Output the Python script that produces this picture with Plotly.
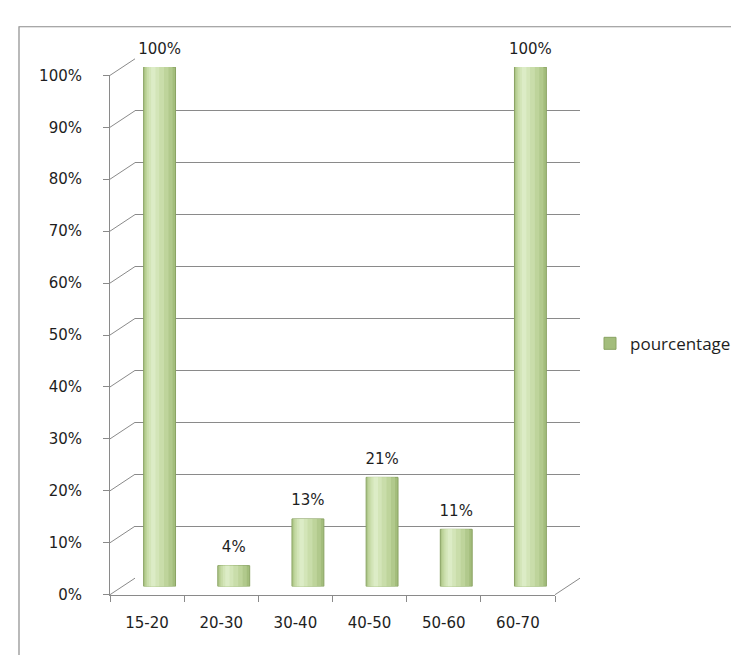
import plotly.graph_objects as go

categories = ["15-20", "20-30", "30-40", "40-50", "50-60", "60-70"]
values = [1.00, 0.04, 0.13, 0.21, 0.11, 1.00]
value_labels = ["100%", "4%", "13%", "21%", "11%", "100%"]
tick_values = [0, 0.1, 0.2, 0.3, 0.4, 0.5, 0.6, 0.7, 0.8, 0.9, 1.0]
tick_labels = ["0%", "10%", "20%", "30%", "40%", "50%", "60%", "70%", "80%", "90%", "100%"]
series_name = "pourcentage"

W, H = 739, 655
def px(x): return x / W
def py(y): return 1 - y / H

# pseudo-3D planes (pixel positions): front, middle (bars), back (walls)
FRONT = dict(x0=102, x1=547, yb=594, yt=60)
DX, DY = 25, -17
MID = dict(x0=FRONT["x0"] + DX / 2, x1=FRONT["x1"] + DX / 2, yb=FRONT["yb"] + DY / 2, yt=FRONT["yt"] + DY / 2)
BACK = dict(x0=FRONT["x0"] + DX, x1=FRONT["x1"] + DX, yb=FRONT["yb"] + DY, yt=FRONT["yt"] + DY)

GRID = "#8a8a8a"
FONT = "DejaVu Sans"
TXT = "#1e1e1e"

fig = go.Figure()

# back wall grid (subplot 1)
fig.add_trace(go.Scatter(x=categories, y=[None] * len(categories), xaxis="x", yaxis="y",
                         showlegend=False, hoverinfo="skip"))

# cylinders (subplot 2) - layered bars to imitate shading
layers = [
    (0.43, -0.215, "#a3bd7c", "#8aa363", True),
    (0.38, -0.205, "#b1c98c", "rgba(0,0,0,0)", False),
    (0.31, -0.19, "#bed49b", "rgba(0,0,0,0)", False),
    (0.23, -0.17, "#c9ddaa", "rgba(0,0,0,0)", False),
    (0.14, -0.145, "#d3e5b8", "rgba(0,0,0,0)", False),
    (0.06, -0.115, "#dcecc6", "rgba(0,0,0,0)", False),
]
for w, off, col, lcol, leg in layers:
    fig.add_trace(go.Bar(
        x=categories, y=values, xaxis="x2", yaxis="y2",
        width=w, offset=off, marker=dict(color=col, line=dict(color=lcol, width=1 if leg else 0)),
        name=series_name, showlegend=leg, hoverinfo="skip", cliponaxis=False,
    ))
fig.add_trace(go.Scatter(
    x=categories, y=values, xaxis="x2", yaxis="y2", mode="markers+text",
    marker=dict(size=14, color="rgba(0,0,0,0)"),
    text=value_labels, textposition="top center", cliponaxis=False,
    textfont=dict(family=FONT, size=15, color=TXT), showlegend=False, hoverinfo="skip",
))

# front axes (subplot 3)
fig.add_trace(go.Scatter(x=categories, y=[None] * len(categories), xaxis="x3", yaxis="y3",
                         showlegend=False, hoverinfo="skip"))

shapes = []
# diagonals from front ticks to back grid
for v in tick_values:
    yf = FRONT["yb"] + (FRONT["yt"] - FRONT["yb"]) * v
    shapes.append(dict(type="line", xref="paper", yref="paper",
                       x0=px(FRONT["x0"]), y0=py(yf), x1=px(BACK["x0"]), y1=py(yf + DY),
                       line=dict(color=GRID, width=1)))
# right floor edge
shapes.append(dict(type="line", xref="paper", yref="paper",
                   x0=px(FRONT["x1"]), y0=py(FRONT["yb"]), x1=px(BACK["x1"]), y1=py(BACK["yb"]),
                   line=dict(color=GRID, width=1)))
# chart border
shapes.append(dict(type="rect", xref="paper", yref="paper",
                   x0=px(11), y0=-0.2, x1=1.2, y1=py(10),
                   line=dict(color="#8c8c8c", width=1.2)))

fig.update_layout(
    width=W, height=H,
    margin=dict(l=0, r=0, t=0, b=0),
    paper_bgcolor="white", plot_bgcolor="rgba(0,0,0,0)",
    barmode="overlay",
    showlegend=True,
    legend=dict(x=px(582), y=py(336), xanchor="left", yanchor="middle",
                font=dict(family="Open Sans", size=17, color=TXT),
                bgcolor="rgba(0,0,0,0)", itemwidth=30),
    shapes=shapes,
    xaxis=dict(domain=[px(BACK["x0"]), px(BACK["x1"])], anchor="y", type="category",
               range=[-0.5, 5.5], visible=False),
    yaxis=dict(domain=[py(BACK["yb"]), py(BACK["yt"])], anchor="x", range=[0, 1],
               tickvals=tick_values, showticklabels=False, ticks="",
               showgrid=True, gridcolor=GRID, gridwidth=1, zeroline=False, showline=False),
    xaxis2=dict(domain=[px(MID["x0"]), px(MID["x1"])], anchor="y2", type="category",
                range=[-0.5, 5.5], visible=False),
    yaxis2=dict(domain=[py(MID["yb"]), py(MID["yt"])], anchor="x2", range=[0, 1], visible=False),
    xaxis3=dict(domain=[px(FRONT["x0"]), px(FRONT["x1"])], anchor="y3", type="category",
                range=[-0.5, 5.5], showline=True, linecolor=GRID, linewidth=1,
                ticks="outside", tickson="boundaries", ticklen=6, tickcolor=GRID,
                showgrid=False, tickfont=dict(family=FONT, size=15, color=TXT),
                ticklabelstandoff=14),
    yaxis3=dict(domain=[py(FRONT["yb"]), py(FRONT["yt"])], anchor="x3", range=[0, 1],
                tickvals=tick_values, ticktext=tick_labels, showline=True, linecolor=GRID,
                ticks="outside", ticklen=6, tickcolor=GRID, showgrid=False, zeroline=False,
                tickfont=dict(family=FONT, size=15, color=TXT), ticklabelstandoff=18),
)

fig.write_html("out.html")
